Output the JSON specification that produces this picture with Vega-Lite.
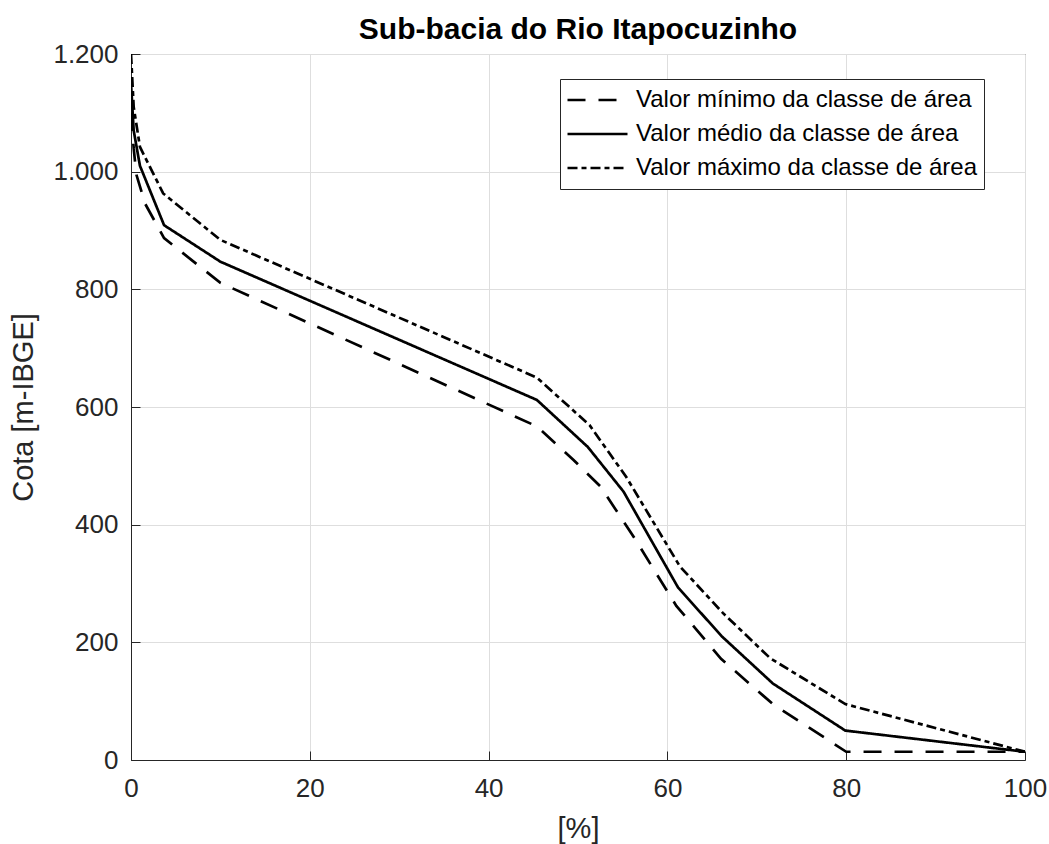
{
  "$schema": "https://vega.github.io/schema/vega-lite/v6.json",
  "autosize": "none",
  "width": 894,
  "height": 706,
  "padding": {"left": 131, "top": 54, "right": 24, "bottom": 84},
  "background": "white",
  "title": {"text": "Sub-bacia do Rio Itapocuzinho", "font": "Liberation Sans", "fontSize": 30, "fontWeight": "bold", "color": "#000000", "anchor": "middle", "offset": -4},
  "config": {
    "view": {"stroke": "#262626", "strokeWidth": 1},
    "axis": {"labelFont": "Liberation Sans", "titleFont": "Liberation Sans", "labelFontSize": 26, "titleFontSize": 29, "labelColor": "#262626", "titleColor": "#262626", "titleFontWeight": "normal", "gridColor": "#dedede", "gridWidth": 1, "domainColor": "#262626", "tickColor": "#262626", "tickSize": -9, "labelFlush": false, "labelOverlap": false, "labelBound": false}
  },
  "data": {"values": [
    {"x": 0, "y": 1100, "s": "Valor mínimo da classe de área"},
    {"x": 0.3, "y": 1040, "s": "Valor mínimo da classe de área"},
    {"x": 0.6, "y": 995, "s": "Valor mínimo da classe de área"},
    {"x": 1.6, "y": 945, "s": "Valor mínimo da classe de área"},
    {"x": 3.7, "y": 887, "s": "Valor mínimo da classe de área"},
    {"x": 10, "y": 811, "s": "Valor mínimo da classe de área"},
    {"x": 45.4, "y": 567, "s": "Valor mínimo da classe de área"},
    {"x": 49.5, "y": 510, "s": "Valor mínimo da classe de área"},
    {"x": 52.5, "y": 465, "s": "Valor mínimo da classe de área"},
    {"x": 56.2, "y": 380, "s": "Valor mínimo da classe de área"},
    {"x": 61, "y": 262, "s": "Valor mínimo da classe de área"},
    {"x": 66, "y": 172, "s": "Valor mínimo da classe de área"},
    {"x": 71.8, "y": 95, "s": "Valor mínimo da classe de área"},
    {"x": 80, "y": 14, "s": "Valor mínimo da classe de área"},
    {"x": 100, "y": 14, "s": "Valor mínimo da classe de área"},
    {"x": 0, "y": 1150, "s": "Valor médio da classe de área"},
    {"x": 0.3, "y": 1070, "s": "Valor médio da classe de área"},
    {"x": 1, "y": 1010, "s": "Valor médio da classe de área"},
    {"x": 3.7, "y": 909, "s": "Valor médio da classe de área"},
    {"x": 10, "y": 847, "s": "Valor médio da classe de área"},
    {"x": 45.4, "y": 612, "s": "Valor médio da classe de área"},
    {"x": 51.1, "y": 532, "s": "Valor médio da classe de área"},
    {"x": 55.1, "y": 456, "s": "Valor médio da classe de área"},
    {"x": 61.2, "y": 293, "s": "Valor médio da classe de área"},
    {"x": 66.1, "y": 210, "s": "Valor médio da classe de área"},
    {"x": 71.8, "y": 130, "s": "Valor médio da classe de área"},
    {"x": 79.9, "y": 50, "s": "Valor médio da classe de área"},
    {"x": 100, "y": 14, "s": "Valor médio da classe de área"},
    {"x": 0, "y": 1200, "s": "Valor máximo da classe de área"},
    {"x": 0.3, "y": 1110, "s": "Valor máximo da classe de área"},
    {"x": 1, "y": 1042, "s": "Valor máximo da classe de área"},
    {"x": 3.6, "y": 963, "s": "Valor máximo da classe de área"},
    {"x": 10, "y": 884, "s": "Valor máximo da classe de área"},
    {"x": 45.4, "y": 650, "s": "Valor máximo da classe de área"},
    {"x": 51.3, "y": 569, "s": "Valor máximo da classe de área"},
    {"x": 55.4, "y": 481, "s": "Valor máximo da classe de área"},
    {"x": 61.4, "y": 329, "s": "Valor máximo da classe de área"},
    {"x": 66.2, "y": 250, "s": "Valor máximo da classe de área"},
    {"x": 71.5, "y": 173, "s": "Valor máximo da classe de área"},
    {"x": 79.9, "y": 95, "s": "Valor máximo da classe de área"},
    {"x": 100, "y": 14, "s": "Valor máximo da classe de área"}
  ]},
  "mark": {"type": "line", "color": "#000000", "strokeWidth": 2.7, "clip": true},
  "encoding": {
    "x": {"field": "x", "type": "quantitative", "scale": {"domain": [0, 100], "nice": false}, "axis": {"title": "[%]", "values": [0, 20, 40, 60, 80, 100], "labelPadding": 24, "titleBaseline": "alphabetic", "titleY": 77}},
    "y": {"field": "y", "type": "quantitative", "scale": {"domain": [0, 1200], "nice": false}, "axis": {"title": "Cota [m-IBGE]", "values": [0, 200, 400, 600, 800, 1000, 1200], "labelExpr": "replace(format(datum.value, ','), ',', '.')", "labelPadding": 22, "titleBaseline": "alphabetic", "titleX": -99, "titleY": 353, "titleAngle": -90}},
    "strokeDash": {"field": "s", "type": "nominal",
      "scale": {"domain": ["Valor mínimo da classe de área", "Valor médio da classe de área", "Valor máximo da classe de área"], "range": [[18, 13], [1, 0], [10, 4, 5, 4]]},
      "legend": {"title": null, "orient": "none", "legendX": 429, "legendY": 25, "labelFont": "Liberation Sans", "labelFontSize": 24, "labelColor": "#000000", "labelLimit": 0, "symbolType": "stroke", "symbolSize": 3600, "symbolStrokeWidth": 2.7, "symbolStrokeColor": "#000000", "strokeColor": "#262626", "fillColor": "white", "padding": 6, "rowPadding": 4, "clipHeight": 30, "labelOffset": 7}
    }
  }
}
